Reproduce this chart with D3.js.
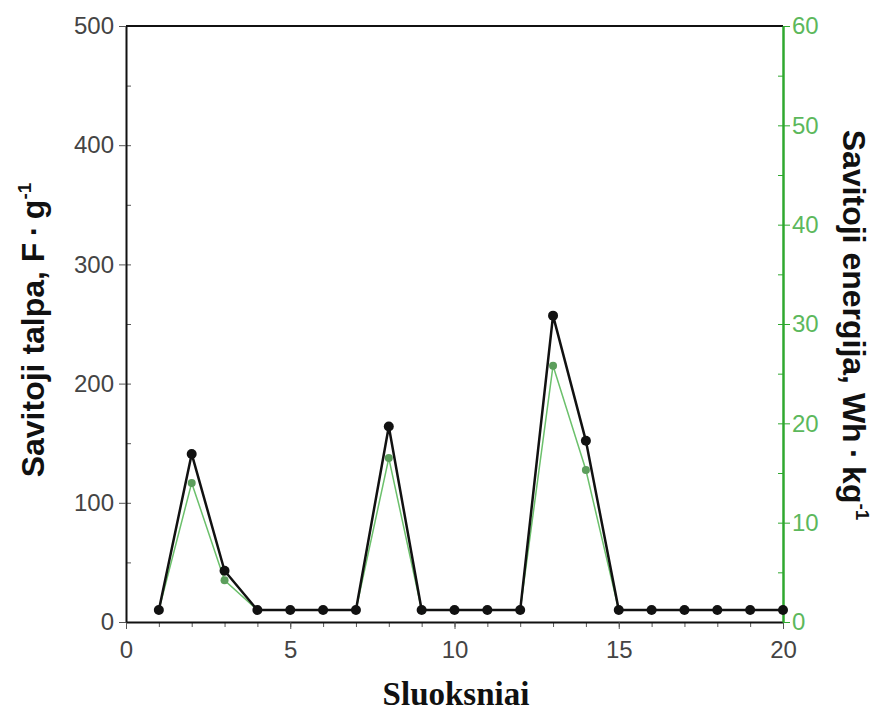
<!DOCTYPE html>
<html lang="en">
<head>
<meta charset="UTF-8">
<title>Savitoji talpa ir energija</title>
<script src="https://d3js.org/d3.v7.min.js"></script>
<style>
  body { margin: 0; background: #fff; }
  svg { display: block; }
  .tick text { font-family: "Liberation Sans", Arial, sans-serif; font-size: 24px; }
</style>
</head>
<body>
<svg width="876" height="713"></svg>
<script>
  // layers (x) and the two measured series
  const layers = [1,2,3,4,5,6,7,8,9,10,11,12,13,14,15,16,17,18,19,20];
  const capacitance = [10,141,43,10,10,10,10,164,10,10,10,10,257,152,10,10,10,10,10,10]; // F/g
  const energy = [1.2,14.0,4.2,1.2,1.2,1.2,1.2,16.5,1.2,1.2,1.2,1.2,25.8,15.3,1.2,1.2,1.2,1.2,1.2,1.2]; // Wh/kg
  const xTicks = [0,5,10,15,20];
  const yLeftTicks = [0,100,200,300,400,500];
  const yRightTicks = [0,10,20,30,40,50,60];

  const svg = d3.select("svg");
  const m = {top: 26, right: 93, bottom: 91, left: 126};
  const W = 876 - m.left - m.right, H = 713 - m.top - m.bottom;
  const g = svg.append("g").attr("transform", `translate(${m.left},${m.top})`);

  const x = d3.scaleLinear().domain([0, 20]).range([0, W]);
  const yL = d3.scaleLinear().domain([0, 500]).range([H, 0]);
  const yR = d3.scaleLinear().domain([0, 60]).range([H, 0]);
  const green = "#2fa82f";

  // minor ticks
  g.append("g").attr("transform", `translate(0,${H})`)
    .call(d3.axisBottom(x).tickValues(d3.range(0, 21, 1)).tickSize(5).tickFormat(""))
    .call(a => a.select(".domain").remove())
    .selectAll("line").attr("stroke", "#555");
  g.append("g")
    .call(d3.axisRight(yL).tickValues(d3.range(0, 501, 50)).tickSize(5).tickFormat(""))
    .call(a => a.select(".domain").remove())
    .selectAll("line").attr("stroke", "#555");
  g.append("g").attr("transform", `translate(${W},0)`)
    .call(d3.axisLeft(yR).tickValues(d3.range(0, 61, 5)).tickSize(5).tickFormat(""))
    .call(a => a.select(".domain").remove())
    .selectAll("line").attr("stroke", green);

  // top frame line
  g.append("line").attr("x1", 0).attr("x2", W).attr("y1", 0).attr("y2", 0)
    .attr("stroke", "#111").attr("stroke-width", 2);

  // major axes
  const xAxis = g.append("g").attr("transform", `translate(0,${H})`)
    .call(d3.axisBottom(x).tickValues(xTicks).tickSize(7).tickSizeOuter(0).tickPadding(12));
  xAxis.select(".domain").attr("stroke", "#111").attr("stroke-width", 2);
  xAxis.selectAll(".tick line").attr("stroke", "#555");
  xAxis.selectAll("text").attr("fill", "#444");

  const yAxisL = g.append("g")
    .call(d3.axisLeft(yL).tickValues(yLeftTicks).tickSize(7).tickSizeOuter(0).tickPadding(5));
  yAxisL.select(".domain").attr("stroke", "#111").attr("stroke-width", 2);
  yAxisL.selectAll(".tick line").attr("stroke", "#555");
  yAxisL.selectAll("text").attr("fill", "#444");

  const yAxisR = g.append("g").attr("transform", `translate(${W},0)`)
    .call(d3.axisRight(yR).tickValues(yRightTicks).tickSize(7).tickSizeOuter(0).tickPadding(2));
  yAxisR.select(".domain").attr("stroke", green).attr("stroke-width", 2.5);
  yAxisR.selectAll(".tick line").attr("stroke", green);
  yAxisR.selectAll("text").attr("fill", "#5cb85c");

  // energy series (green, behind)
  const lineE = d3.line().x((d, i) => x(layers[i])).y(d => yR(d));
  g.append("path").datum(energy).attr("d", lineE)
    .attr("fill", "none").attr("stroke", "#6cc06c").attr("stroke-width", 1.5);
  g.selectAll("circle.e").data(energy).join("circle").attr("class", "e")
    .attr("cx", (d, i) => x(layers[i])).attr("cy", d => yR(d)).attr("r", 4)
    .attr("fill", "#5c9e5c");

  // capacitance series (black)
  const lineC = d3.line().x((d, i) => x(layers[i])).y(d => yL(d));
  g.append("path").datum(capacitance).attr("d", lineC)
    .attr("fill", "none").attr("stroke", "#111").attr("stroke-width", 2.5);
  g.selectAll("circle.c").data(capacitance).join("circle").attr("class", "c")
    .attr("cx", (d, i) => x(layers[i])).attr("cy", d => yL(d)).attr("r", 5)
    .attr("fill", "#111");

  // axis titles
  svg.append("text")
    .attr("x", 456).attr("y", 705).attr("text-anchor", "middle")
    .attr("font-family", "'Liberation Serif', 'Times New Roman', serif")
    .attr("font-weight", "bold").attr("font-size", 33).attr("fill", "#111")
    .text("Sluoksniai");

  const tl = svg.append("text")
    .attr("transform", "translate(44,330) rotate(-90)").attr("text-anchor", "middle")
    .attr("font-family", "'Liberation Sans', Arial, sans-serif")
    .attr("font-weight", "bold").attr("font-size", 32).attr("fill", "#111");
  tl.append("tspan").text("Savitoji talpa, F\u2009\u00b7\u2009g");
  tl.append("tspan").attr("dy", -13).attr("font-size", 19).text("-1");

  const tr = svg.append("text")
    .attr("transform", "translate(843,325) rotate(90)").attr("text-anchor", "middle")
    .attr("font-family", "'Liberation Sans', Arial, sans-serif")
    .attr("font-weight", "bold").attr("font-size", 32).attr("fill", "#111");
  tr.append("tspan").text("Savitoji energija, Wh\u2009\u00b7\u2009kg");
  tr.append("tspan").attr("dy", -13).attr("font-size", 19).text("-1");
</script>
</body>
</html>
